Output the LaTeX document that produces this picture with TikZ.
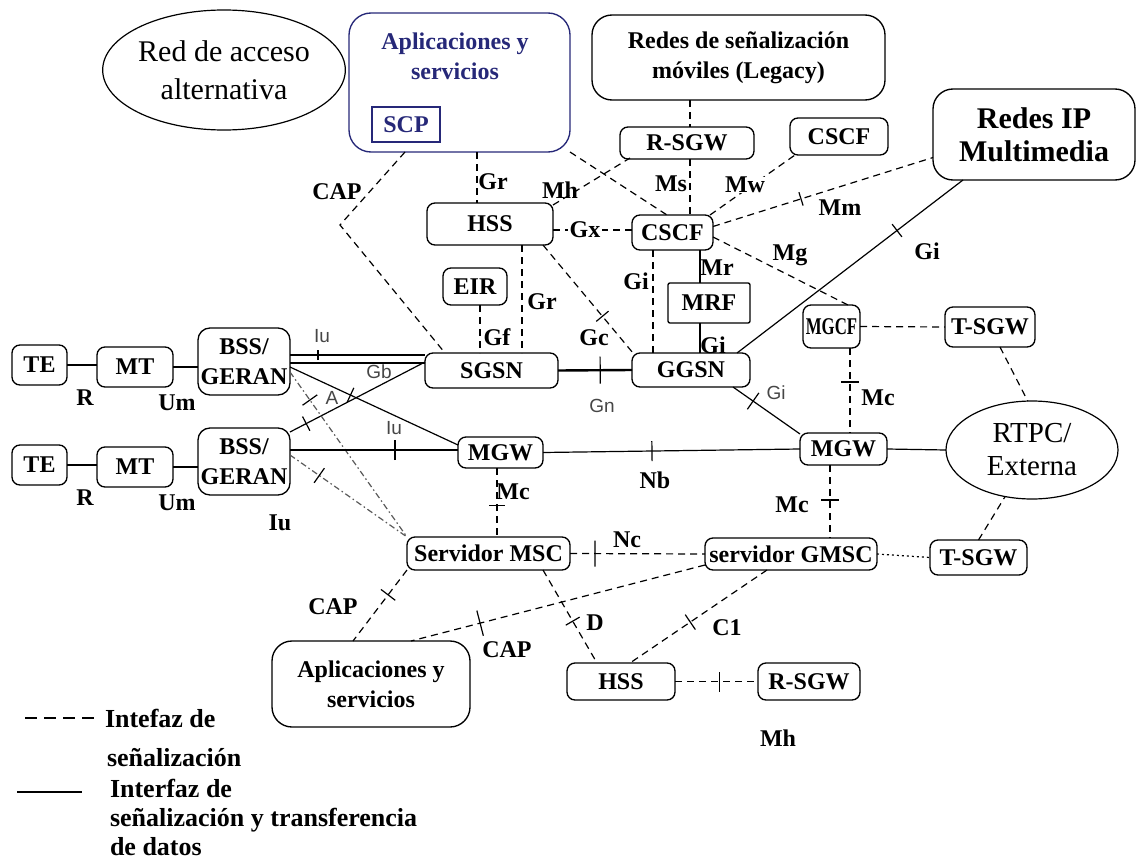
\documentclass[tikz,border=0pt]{standalone}
\usepackage{fontspec}
\usepackage{graphicx}
\setmainfont{Liberation Serif}
\newfontfamily\lsans{Liberation Sans}
\usetikzlibrary{calc,shapes.geometric}
\definecolor{navy}{RGB}{38,40,120}
\definecolor{lblgray}{RGB}{70,70,70}
% short perpendicular bar on an interface line (argument: half length)
\newcommand\tmk[1]{\rule[-#1pt]{1.2pt}{\dimexpr#1pt*2\relax}}

\begin{document}
\begin{tikzpicture}[x=1pt,y=-1pt,
  every node/.style={inner sep=0pt, outer sep=0pt},
  wh/.style 2 args={minimum width=#1pt, minimum height=#2pt},
  box/.style={draw, line width=1.35pt, rounded corners=8pt, align=center,
    font=\fontsize{24}{30}\selectfont\bfseries},
  bigbox/.style={box, rounded corners=20pt},
  oval/.style={draw, ellipse, line width=1.2pt, align=center},
  lab/.style={font=\fontsize{24}{28}\selectfont\bfseries},
  leg/.style={font=\fontsize{26}{30}\selectfont\bfseries, anchor=base west},
  slab/.style={font=\lsans\fontsize{19}{22}\selectfont, text=lblgray},
  conn/.style={line width=1.2pt},
  sig/.style={conn, dash pattern=on 7pt off 5pt},
  legdash/.style={conn, dash pattern=on 12pt off 7pt},
  sigdd/.style={conn, draw=gray!70!black, dash pattern=on 6pt off 3pt on 1.5pt off 3pt},
  sigdot/.style={conn, dash pattern=on 2pt off 3pt},
  tm/.style={sloped, anchor=center},
]
\useasboundingbox (0,0) rectangle (1138,859);

% ---------- network elements ----------
\node[oval, wh={225}{120}, font=\fontsize{30}{38}\selectfont] (redacc) at (224,70) {Red de acceso\\alternativa};
\node[bigbox, draw=navy, wh={221}{139}, rounded corners=22pt] (apsup) at (459.5,82.5) {};
\node[lab, text=navy, align=center, font=\fontsize{24}{30}\selectfont\bfseries] (apsuptxt) at (455,56) {Aplicaciones y\\servicios};
\node[draw=navy, line width=1.35pt, wh={68}{35}, text=navy, font=\fontsize{24}{30}\selectfont\bfseries] (scp) at (406,124.5) {SCP};
\node[bigbox, wh={293}{85}] (legacy) at (738.5,57.5) {Redes de señalización\\móviles (Legacy)};
\node[box, wh={134}{32}] (rsgw1) at (687,143) {R-SGW};
\node[box, wh={98}{37}] (cscf2) at (839,136.5) {CSCF};
\node[bigbox, wh={202}{91}, font=\fontsize{30}{33}\selectfont\bfseries] (ipmm) at (1034,134.5) {Redes IP\\Multimedia};
\node[box, wh={126}{42}] (hss1) at (490,224) {HSS};
\node[box, wh={81}{35}] (cscf1) at (672.5,232.5) {CSCF};
\node[box, wh={64}{37}] (eir) at (475,286.5) {EIR};
\node[box, rounded corners=2pt, wh={82}{40}] (mrf) at (709,303) {MRF};
\node[box, wh={133}{35}] (sgsn) at (491.5,370.5) {SGSN};
\node[box, wh={118}{34}] (ggsn) at (691,370) {GGSN};
\node[box, wh={57}{43}] (mgcf) at (831.5,326.5) {\scalebox{0.7}[1]{MGCF}};
\node[box, wh={90}{40}] (tsgw1) at (990,327) {T-SGW};
\node[box, wh={87}{32}] (mgw2) at (843.5,449) {MGW};
\node[oval, wh={172}{98}, font=\fontsize{29}{33}\selectfont] (rtpc) at (1032,450) {RTPC/\\Externa};

\node[box, wh={55}{40}] (te1) at (39.5,365) {TE};
\node[box, wh={76}{40}] (mt1) at (135,367) {MT};
\node[box, rounded corners=12pt, wh={92}{67}] (bss1) at (244,361.5) {BSS/\\GERAN};
\node[box, wh={55}{40}] (te2) at (39.5,465) {TE};
\node[box, wh={76}{40}] (mt2) at (135,467) {MT};
\node[box, rounded corners=12pt, wh={92}{67}] (bss2) at (244,461.5) {BSS/\\GERAN};

\node[box, wh={85}{31}] (mgw1) at (500.5,452.5) {MGW};
\node[box, wh={163}{33}] (msc) at (488.5,553.5) {Servidor MSC};
\node[box, wh={172}{32}] (gmsc) at (791,554) {servidor GMSC};
\node[box, wh={97}{35}] (tsgw2) at (978.5,557.5) {T-SGW};
\node[bigbox, wh={198}{86}] (aplow) at (371,684) {Aplicaciones y\\servicios};
\node[box, wh={108}{37}] (hss2) at (621,681.5) {HSS};
\node[box, wh={102}{37}] (rsgw2) at (809,681.5) {R-SGW};

% ---------- access side ----------
\draw[conn] (te1.east) -- (te1.east -| mt1.west);
\draw[conn] (mt1.east) -- (mt1.east -| bss1.west);
\draw[conn] (te2.east) -- (te2.east -| mt2.west);
\draw[conn] (mt2.east) -- (mt2.east -| bss2.west);

\draw[conn] ($(bss1.east)+(0,-6.5)$) -- node[tm,pos=.207]{\tmk{5}} ($(sgsn.west)+(0,-15.5)$);
\draw[conn] ($(bss1.east)+(0,1.5)$) -- ($(sgsn.west)+(0,-7.5)$);
\draw[conn] ($(bss2.east)+(0,-29.5)$) -- node[tm,pos=.12]{\tmk{8}} ($(sgsn.west)+(0,-8.5)$);
\draw[conn] ($(bss1.east)+(0,5.5)$) -- node[tm,pos=.36]{\tmk{8}} ($(mgw1.west)+(0,-7.5)$);
\draw[sigdd] ($(bss1.east)+(0,10.5)$) -- node[tm,pos=.17]{\tmk{9}} (msc.north west);
\draw[conn] ($(bss2.east)+(0,-11.5)$) -- node[tm,pos=.625]{\tmk{10}} ($(mgw1.west)+(0,-2.5)$);
\draw[sigdd] ($(bss2.east)+(0,-6.5)$) -- node[tm,pos=.25]{\tmk{9}} (msc.north west);

% ---------- core ----------
\draw[sig] ($(mgw1.south)+(-3.5,0)$) -- node[tm,pos=.54]{\tmk{8}} ($(msc.north)+(8.5,0)$);
\draw[conn] (mgw1.east) -- node[tm,pos=.424]{\tmk{10}} (mgw2.west);
\draw[conn, line width=2.4pt] (sgsn.east) -- node[tm,pos=.57]{\tmk{13.5}} (ggsn.west);
\draw[conn] ($(ggsn.south east)+(-17,0)$) -- node[tm,pos=.3]{\tmk{10}} ($(mgw2.north west)+(0,1)$);
\draw[conn] ($(ggsn.north east)+(-13,0)$) -- node[tm,pos=.708]{\tmk{8}} ($(ipmm.south)+(-71,0)$);
\draw[conn] ($(mrf.south)+(-9,0)$) -- ($(ggsn.north)+(9,0)$);
\draw[conn] ($(cscf1.south)+(27.5,0)$) -- ($(mrf.north)+(-9,0)$);
\draw[sig] ($(cscf1.south)+(-19.5,0)$) -- ($(ggsn.north)+(-38,0)$);
\draw[sig] ($(hss1.south)+(32,0)$) -- ($(sgsn.north)+(30.5,0)$);
\draw[sig] ($(hss1.south east)+(-10,0)$) -- node[tm,pos=.66]{\tmk{8}} ($(ggsn.north west)+(1,0)$);
\draw[sig] ($(eir.south)+(5,0)$) -- ($(sgsn.north)+(-11.5,0)$);
\coordinate (capbend) at (340,225);
\draw[sig] ($(apsup.south west)+(56,0)$) -- (capbend) -- ($(sgsn.north west)+(20,0)$);
\draw[sig] ($(apsup.south)+(17.5,0)$) -- ($(hss1.north)+(-13,0)$);
\draw[sig] ($(hss1.north east)+(0,2)$) -- ($(rsgw1.south west)+(10,-1)$);
\draw[sig] (apsup.south east) -- ($(cscf1.north west)+(35,0)$);
\draw[sig] ($(legacy.south)+(-48.5,0)$) -- ($(rsgw1.north)+(3,0)$);
\draw[sig] ($(rsgw1.south)+(3,0)$) -- ($(cscf1.north)+(17.5,0)$);
\draw[sig] ($(cscf1.north east)+(-3,0)$) -- ($(cscf2.south west)+(5,0)$);
\draw[sig] ($(cscf1.east)+(0,-6)$) -- node[tm,pos=.4]{\tmk{7}} ($(ipmm.west)+(0,23)$);
\draw[sig] ($(cscf1.east)+(0,4.5)$) -- ($(mgcf.north)+(16.5,0)$);
\draw[sig] ($(hss1.east)+(0,6)$) -- ($(cscf1.west)+(0,-2.5)$);
\draw[sig] (mgcf.east) -- (tsgw1.west);
\draw[sig] ($(tsgw1.south)+(10,0)$) -- (rtpc.95);
\draw[sig] ($(mgcf.south)+(18.5,0)$) -- node[tm,pos=.4]{\tmk{9}} ($(mgw2.north)+(6.5,0)$);
\draw[conn] (mgw2.east) -- (rtpc.west);
\draw[sig] ($(mgw2.south)+(-13.5,0)$) -- node[tm,pos=.48]{\tmk{9}} ($(gmsc.north)+(39,0)$);
\draw[sig] (msc.east) -- node[tm,pos=.185]{\tmk{13}} (gmsc.west);
\draw[sigdot] (gmsc.east) -- (tsgw2.west);
\draw[sig] (tsgw2.north) -- (rtpc.240);
\draw[sig] (msc.south west) -- node[tm,pos=.35]{\tmk{9}} ($(aplow.north)+(-18,0)$);
\draw[sig] ($(gmsc.west)+(0,11)$) -- node[tm,pos=.765]{\tmk{13}} ($(aplow.north)+(40,0)$);
\draw[sig] ($(msc.south)+(54.5,0)$) -- node[tm,pos=.55]{\tmk{8}} ($(hss2.north)+(-24,0)$);
\draw[sig] ($(gmsc.south)+(-24,0)$) -- node[tm,pos=.56]{\tmk{9}} ($(hss2.north)+(9,0)$);
\draw[sig] (hss2.east) -- node[tm,pos=.54]{\tmk{10}} (rsgw2.west);

% ---------- interface labels ----------
\node[lab] (lR1) at (85,398) {R};
\node[lab] (lUm1) at (177,403) {Um};
\node[lab] (lR2) at (85,498) {R};
\node[lab] (lUm2) at (177,503) {Um};
\node[lab] (lIub) at (280,523) {Iu};
\node[lab] (lCAP1) at (337,192) {CAP};
\node[lab] (lGr1) at (493,182) {Gr};
\node[lab] (lMh1) at (560,190) {Mh};
\node[lab] (lMs) at (671,184) {Ms};
\node[lab, fill=white, inner xsep=2pt] (lMw) at (745,185) {Mw};
\node[lab, fill=white, inner xsep=2pt] (lGx) at (585,230) {Gx};
\node[lab] (lMm) at (840,208) {Mm};
\node[lab] (lGi1) at (927,251) {Gi};
\node[lab] (lMg) at (790,255) {Mg};
\node[lab] (lMr) at (717,268) {Mr};
\node[lab] (lGi2) at (636,281) {Gi};
\node[lab] (lGr2) at (542,302) {Gr};
\node[lab] (lGf) at (497,337) {Gf};
\node[lab] (lGc) at (594,338) {Gc};
\node[lab] (lGi3) at (713,345) {Gi};
\node[lab] (lMc1) at (878,398) {Mc};
\node[lab] (lNb) at (655,480) {Nb};
\node[lab] (lMc2) at (513,492) {Mc};
\node[lab] (lMc3) at (792,505) {Mc};
\node[lab] (lNc) at (627,540) {Nc};
\node[lab] (lCAP2) at (333,607) {CAP};
\node[lab] (lD) at (595,623) {D};
\node[lab] (lC1) at (727,628) {C1};
\node[lab] (lCAP3) at (507,650) {CAP};
\node[lab] (lMh2) at (778,738) {Mh};

\node[slab] (sIu1) at (322,336) {Iu};
\node[slab] (sGb) at (379,372) {Gb};
\node[slab] (sA) at (332,398) {A};
\node[slab] (sIu2) at (394,428) {Iu};
\node[slab] (sGn) at (602,406) {Gn};
\node[slab] (sGi) at (776,393) {Gi};

% ---------- legend ----------
\draw[legdash] (25,718) -- (97,718);
\draw[conn] (17,792) -- (82,792);
\node[leg] (lg1) at (105,727) {Intefaz de};
\node[leg] (lg2) at (107,766) {señalización};
\node[leg] (lg3) at (110,797) {Interfaz de};
\node[leg] (lg4) at (110,826) {señalización y transferencia};
\node[leg] (lg5) at (110,855) {de datos};
\end{tikzpicture}
\end{document}
